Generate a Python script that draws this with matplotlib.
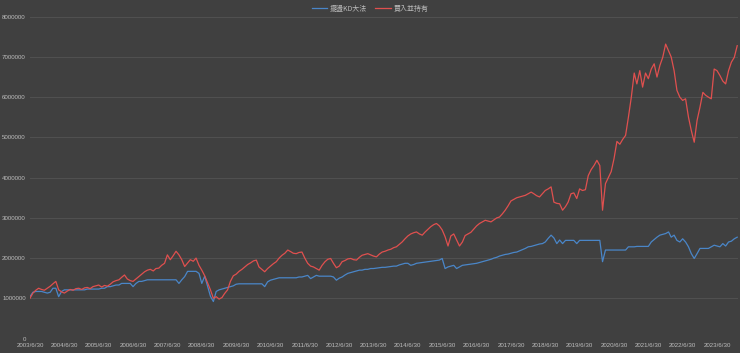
import matplotlib
matplotlib.use("Agg")
import matplotlib.pyplot as plt
import matplotlib.dates as mdates
import pandas as pd

plt.rcParams['font.family'] = ['Noto Sans CJK TC', 'DejaVu Sans']

# 月底資料 2003/6 ~ 2024/1，單位：百萬
kd_vals = [
    1.04, 1.15, 1.17, 1.17, 1.17, 1.15, 1.13, 1.15, 1.25, 1.25,
    1.04, 1.17, 1.21, 1.21, 1.21, 1.21, 1.21, 1.21, 1.21, 1.21,
    1.23, 1.23, 1.23, 1.23, 1.23, 1.25, 1.25, 1.29, 1.29, 1.31,
    1.33, 1.33, 1.37, 1.37, 1.37, 1.37, 1.29, 1.37, 1.42, 1.42,
    1.44, 1.46, 1.46, 1.46, 1.46, 1.46, 1.46, 1.46, 1.46, 1.46,
    1.46, 1.46, 1.37, 1.46, 1.54, 1.67, 1.67, 1.67, 1.67, 1.62,
    1.37, 1.55, 1.30, 1.05, 0.92, 1.17, 1.21, 1.23, 1.25, 1.27,
    1.29, 1.31, 1.35, 1.36, 1.36, 1.36, 1.36, 1.36, 1.36, 1.36,
    1.36, 1.36, 1.29, 1.41, 1.45, 1.47, 1.49, 1.51, 1.51, 1.51,
    1.51, 1.51, 1.51, 1.51, 1.53, 1.53, 1.55, 1.57, 1.49, 1.53,
    1.57, 1.55, 1.55, 1.55, 1.55, 1.55, 1.53, 1.45, 1.50, 1.53,
    1.58, 1.62, 1.64, 1.66, 1.68, 1.70, 1.70, 1.72, 1.72, 1.74,
    1.74, 1.75, 1.76, 1.77, 1.77, 1.78, 1.79, 1.80, 1.80, 1.83,
    1.85, 1.87, 1.87, 1.82, 1.84, 1.87, 1.88, 1.89, 1.90, 1.91,
    1.92, 1.93, 1.94, 1.95, 1.99, 1.74, 1.78, 1.80, 1.82, 1.74,
    1.78, 1.82, 1.83, 1.84, 1.85, 1.86, 1.87, 1.89, 1.91, 1.93,
    1.95, 1.97, 2.00, 2.02, 2.05, 2.07, 2.09, 2.10, 2.12, 2.14,
    2.15, 2.18, 2.21, 2.24, 2.28, 2.29, 2.31, 2.33, 2.35, 2.36,
    2.40, 2.49, 2.57, 2.50, 2.36, 2.45, 2.36, 2.44, 2.44, 2.44,
    2.44, 2.36, 2.44, 2.44, 2.44, 2.44, 2.44, 2.44, 2.44, 2.44,
    1.91, 2.20, 2.20, 2.20, 2.20, 2.20, 2.20, 2.20, 2.20, 2.28,
    2.28, 2.28, 2.29, 2.29, 2.29, 2.29, 2.29, 2.40, 2.46, 2.52,
    2.57, 2.59, 2.61, 2.65, 2.52, 2.57, 2.44, 2.40, 2.48, 2.40,
    2.28, 2.11, 1.99, 2.11, 2.24, 2.24, 2.24, 2.24, 2.28, 2.32,
    2.30, 2.28, 2.36, 2.30, 2.40, 2.42, 2.48, 2.52,
]

hold_vals = [
    1.00, 1.13, 1.20, 1.25, 1.22, 1.20, 1.25, 1.30, 1.36, 1.42,
    1.21, 1.16, 1.13, 1.18, 1.22, 1.20, 1.24, 1.25, 1.22, 1.26,
    1.27, 1.24, 1.29, 1.31, 1.33, 1.28, 1.32, 1.30, 1.35, 1.41,
    1.44, 1.46, 1.52, 1.58, 1.48, 1.44, 1.42, 1.48, 1.54, 1.60,
    1.66, 1.70, 1.72, 1.68, 1.74, 1.75, 1.82, 1.87, 2.08, 1.96,
    2.06, 2.17, 2.08, 1.96, 1.79, 1.88, 1.96, 1.92, 2.00, 1.82,
    1.70, 1.56, 1.38, 1.21, 1.00, 1.04, 0.98, 1.02, 1.12, 1.21,
    1.42, 1.56, 1.60, 1.67, 1.72, 1.78, 1.84, 1.88, 1.93, 1.95,
    1.78, 1.72, 1.66, 1.74, 1.80, 1.86, 1.91, 2.00, 2.07, 2.12,
    2.20, 2.16, 2.12, 2.11, 2.14, 2.15, 2.00, 1.87, 1.80, 1.78,
    1.74, 1.70, 1.82, 1.91, 1.97, 1.99, 1.87, 1.76, 1.80, 1.91,
    1.94, 1.98, 1.99, 1.96, 1.95, 2.02, 2.07, 2.09, 2.11, 2.08,
    2.05, 2.03, 2.10, 2.15, 2.17, 2.20, 2.22, 2.26, 2.28, 2.34,
    2.40, 2.48, 2.55, 2.60, 2.63, 2.65, 2.60, 2.57, 2.65, 2.72,
    2.78, 2.83, 2.86, 2.80, 2.70, 2.53, 2.30, 2.55, 2.60, 2.45,
    2.30, 2.40, 2.56, 2.60, 2.64, 2.72, 2.80, 2.86, 2.90, 2.94,
    2.92, 2.90, 2.95, 3.00, 3.02, 3.10, 3.19, 3.30, 3.42, 3.46,
    3.50, 3.52, 3.54, 3.56, 3.60, 3.64, 3.60, 3.55, 3.52, 3.60,
    3.68, 3.72, 3.77, 3.39, 3.36, 3.35, 3.19, 3.28, 3.39, 3.60,
    3.62, 3.48, 3.72, 3.68, 3.70, 4.05, 4.20, 4.30, 4.43, 4.30,
    3.19, 3.85, 4.00, 4.15, 4.47, 4.90, 4.83, 4.95, 5.05, 5.50,
    6.00, 6.60, 6.33, 6.66, 6.25, 6.60, 6.46, 6.70, 6.83, 6.50,
    6.79, 6.99, 7.32, 7.15, 7.00, 6.66, 6.17, 6.00, 5.92, 5.96,
    5.50, 5.17, 4.88, 5.42, 5.75, 6.12, 6.05, 6.00, 5.96, 6.70,
    6.66, 6.54, 6.40, 6.33, 6.66, 6.87, 6.99, 7.28,
]

series_names = ["擺盪KD大法", "買入並持有"]
dates = pd.date_range("2003-06-30", periods=len(hold_vals), freq="ME")
tick_dates = pd.to_datetime([f"{y}-06-30" for y in range(2003, 2024)])
y_ticks = list(range(0, 9000000, 1000000))

bg = "#404040"
txt = "#bdbdbd"

fig = plt.figure(figsize=(7.4, 3.53), dpi=100, facecolor=bg)
ax = fig.add_axes([0.0405, 0.041, 0.957, 0.9116], facecolor=bg)

ax.plot(dates, [v * 1e6 for v in kd_vals], color="#4a86c8", lw=0.9, label=series_names[0])
ax.plot(dates, [v * 1e6 for v in hold_vals], color="#e0504f", lw=0.9, label=series_names[1])

ax.set_xlim(pd.Timestamp("2003-06-30"), pd.Timestamp("2024-02-10"))
ax.set_ylim(0, 8000000)
ax.set_yticks(y_ticks)
ax.set_yticklabels([str(v) for v in y_ticks])
ax.set_xticks(tick_dates)
ax.xaxis.set_major_formatter(mdates.DateFormatter("%Y/%-m/%d"))
ax.tick_params(axis="both", length=0, colors=txt, labelsize=4.4)
ax.tick_params(axis="x", pad=3)
ax.tick_params(axis="y", pad=3)
for lab in ax.get_xticklabels() + ax.get_yticklabels():
    lab.set_family("Liberation Sans")

ax.grid(axis="y", color="#515151", lw=0.7)
ax.set_axisbelow(True)
for s in ax.spines.values():
    s.set_visible(False)

leg = fig.legend(loc="upper center", bbox_to_anchor=(0.5, 1.005), ncol=2, frameon=False,
                 fontsize=5, handlelength=2.2, columnspacing=1.2, handletextpad=0.4)
for t in leg.get_texts():
    t.set_color(txt)

fig.savefig("out.png", dpi=100, facecolor=bg)
